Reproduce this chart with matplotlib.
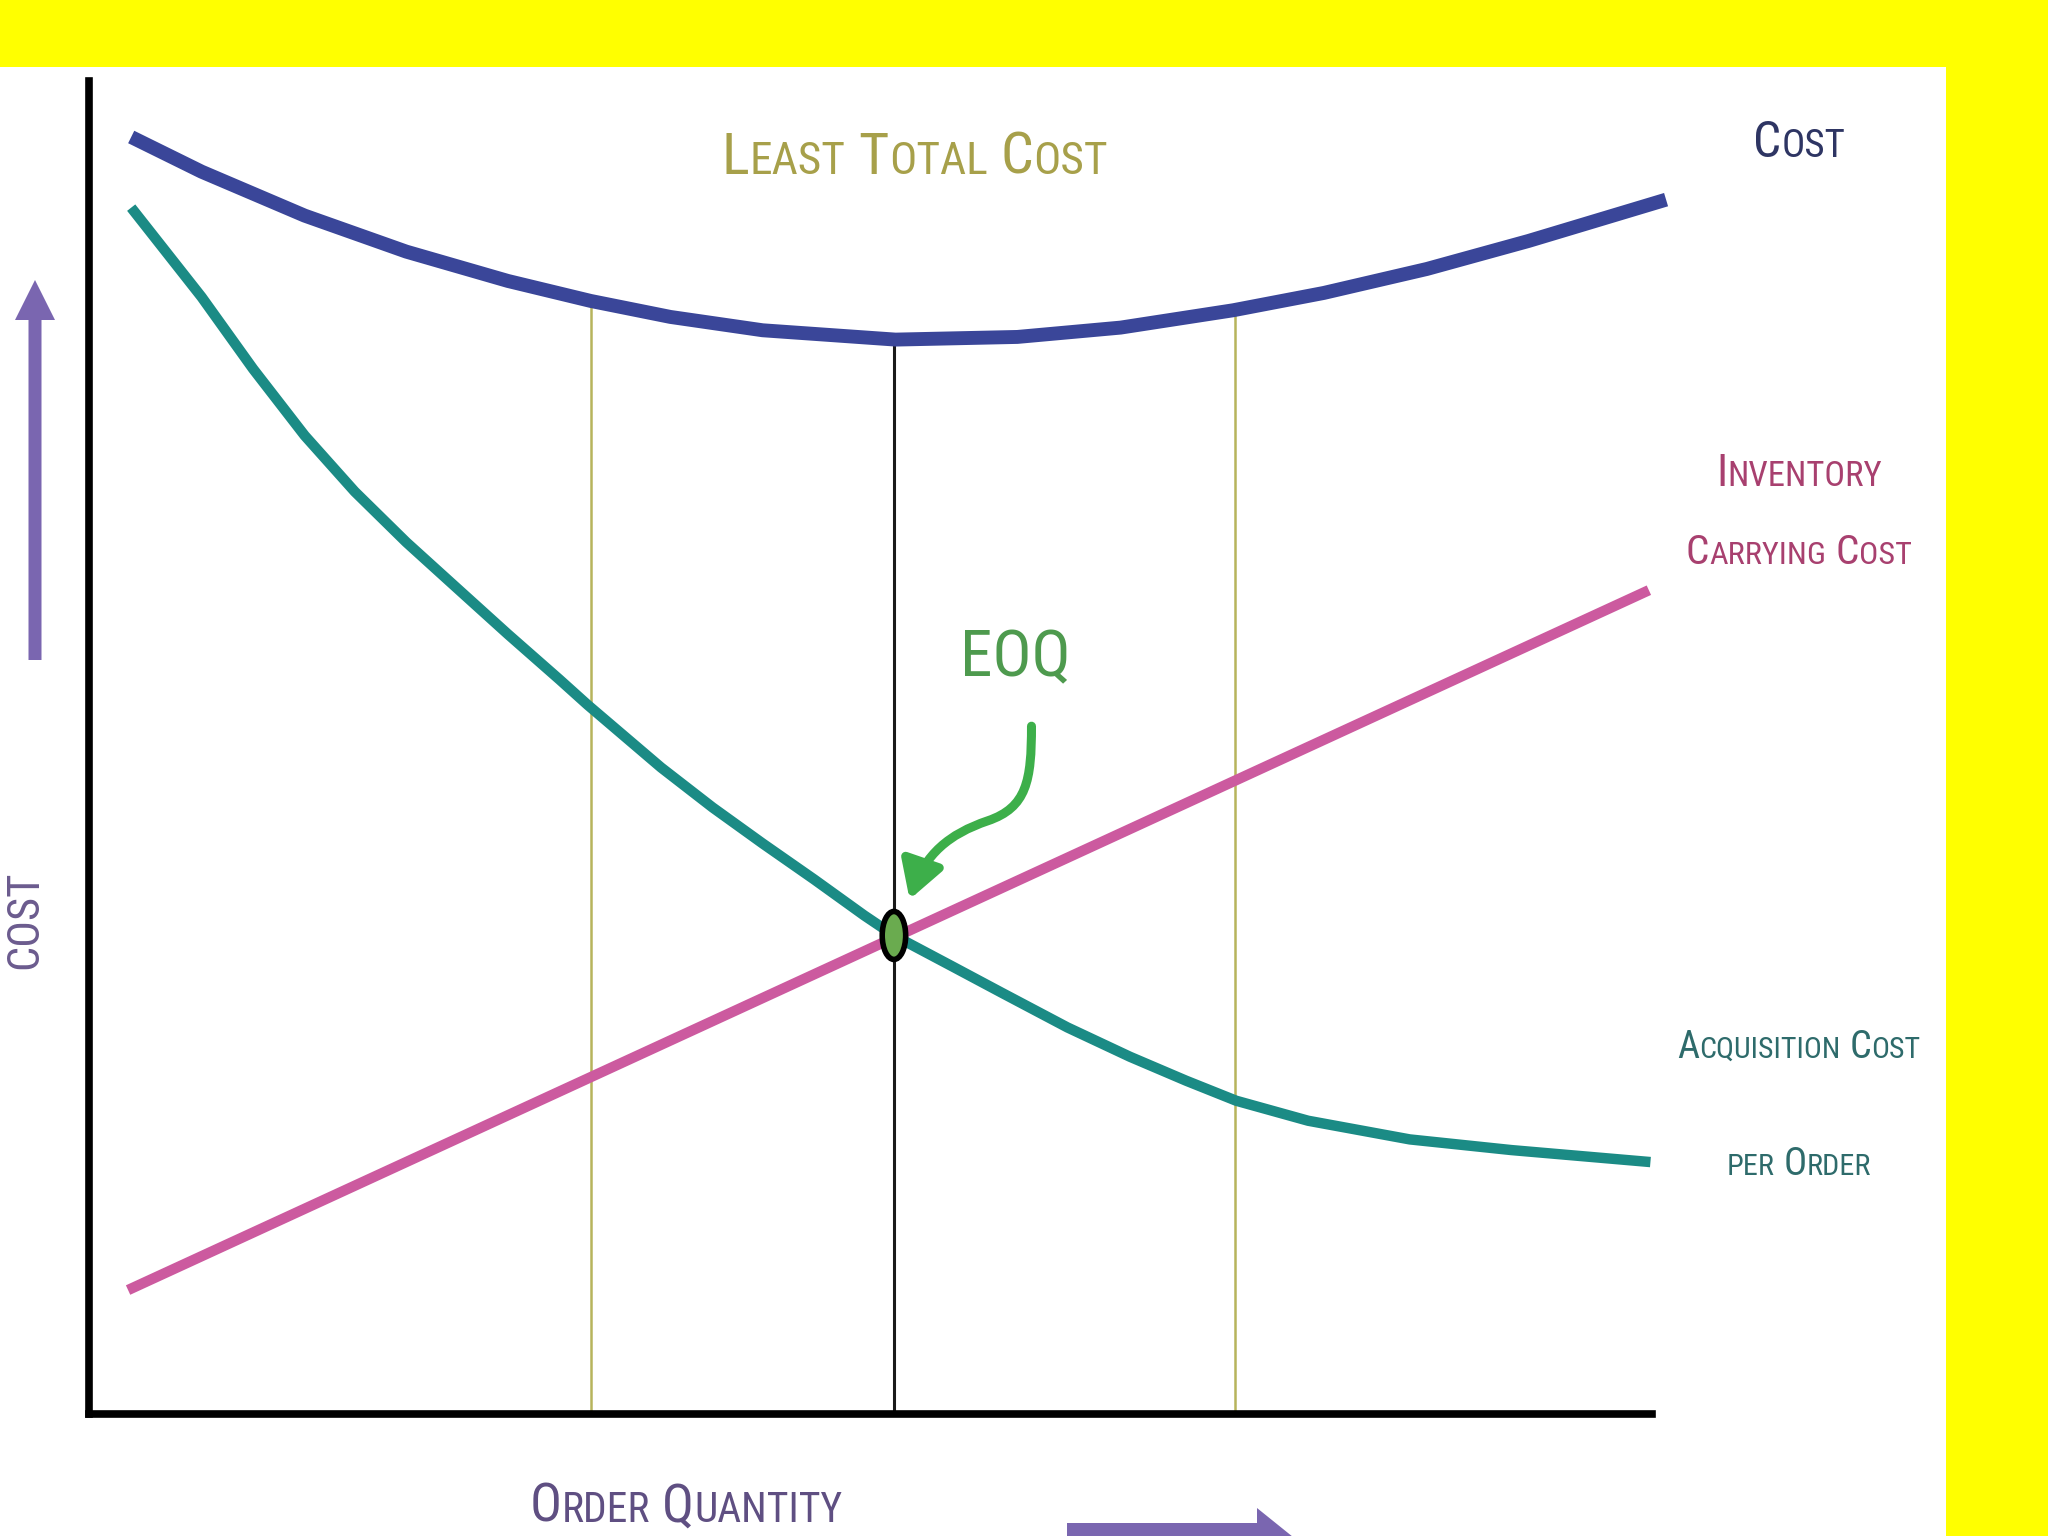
import os
import numpy as np
import matplotlib
matplotlib.use('Agg')
import matplotlib.pyplot as plt
from matplotlib import font_manager
from matplotlib.font_manager import FontProperties
from matplotlib.patches import Rectangle, Ellipse, FancyArrow, FancyArrowPatch
from matplotlib.path import Path

# values (order quantity 0..10 on x, cost 0..10 on y)
total_q = [0.27, 0.72, 1.38, 2.03, 2.68, 3.21, 3.72, 4.31, 5.16, 5.94, 6.60, 7.32, 7.90, 8.56, 9.21, 10.09]
total_cost = [9.58, 9.32, 8.99, 8.72, 8.50, 8.35, 8.23, 8.13, 8.06, 8.08, 8.15, 8.28, 8.41, 8.59, 8.80, 9.11]

acq_q = [0.27, 0.72, 1.05, 1.38, 1.70, 2.03, 2.35, 2.68, 3.01, 3.19, 3.66, 3.99, 4.31, 4.64, 4.96, 5.15,
         5.52, 5.84, 6.26, 6.66, 7.02, 7.34, 7.80, 8.45, 9.10, 9.99]
acq_cost = [9.05, 8.38, 7.84, 7.34, 6.92, 6.54, 6.20, 5.85, 5.51, 5.32, 4.85, 4.55, 4.28, 4.01, 3.74, 3.59,
            3.36, 3.16, 2.90, 2.68, 2.50, 2.35, 2.20, 2.06, 1.98, 1.89]

carry_q = [0.25, 9.98]
carry_cost = [0.93, 6.18]

eoq_q = 5.15
eoq_cost = 3.59
band_q = [3.21, 7.33]


def find_font():
    prefs = ['notosans-extracondensedmedium.ttf', 'notosans-extracondensed.ttf',
             'liberationsansnarrow-regular.ttf', 'robotocondensed-regular.ttf',
             'notosans-condensedmedium.ttf', 'notosans-condensed.ttf', 'dejavusanscondensed.ttf']
    files = [f.fname for f in font_manager.fontManager.ttflist] + font_manager.findSystemFonts()
    for p in prefs:
        for fn in files:
            if os.path.basename(fn).lower() == p:
                return FontProperties(fname=fn)
    return FontProperties(family='Roboto')


fp = find_font()

fig = plt.figure(figsize=(20.48, 15.36), dpi=100)
fig.patch.set_facecolor('white')

# pixel-space layer for frame, arrows and labels
deco = fig.add_axes([0, 0, 1, 1])
deco.set_xlim(0, 2048)
deco.set_ylim(1536, 0)
deco.axis('off')
deco.add_patch(Rectangle((0, 0), 2048, 67, color='#ffff00', lw=0))
deco.add_patch(Rectangle((1946, 0), 102, 1536, color='#ffff00', lw=0))

ax = fig.add_axes([89 / 2048, 1 - 1414 / 1536, (1652 - 89) / 2048, (1414 - 81) / 1536])
ax.patch.set_alpha(0)
ax.set_xlim(0, 10)
ax.set_ylim(0, 10)
for s in ['top', 'right']:
    ax.spines[s].set_visible(False)
for s in ['left', 'bottom']:
    ax.spines[s].set_linewidth(5.5)
    ax.spines[s].set_color('black')
ax.set_xticks([])
ax.set_yticks([])

# guide lines up to the total cost curve
ax.vlines(band_q, 0, np.interp(band_q, total_q, total_cost), colors='#b7b45c', lw=1.8, zorder=1)
ax.vlines(eoq_q, 0, np.interp(eoq_q, total_q, total_cost), colors='#1a1a1a', lw=2.2, zorder=1)

ax.plot(carry_q, carry_cost, color='#cc5a9f', lw=7.5, solid_capstyle='butt', zorder=3)
ax.plot(acq_q, acq_cost, color='#1b8b85', lw=7.5, solid_capstyle='butt', solid_joinstyle='round', zorder=2)
ax.plot(total_q, total_cost, color='#3a4699', lw=10, solid_capstyle='butt', solid_joinstyle='round',
        clip_on=False, zorder=3)

ax.add_patch(Ellipse((eoq_q, eoq_cost), 0.15, 0.36, fc='#6aab4f', ec='black', lw=4, zorder=5))

verts = [(6.03, 5.16), (6.03, 4.75), (6.0, 4.55), (5.75, 4.45),
         (5.5, 4.35), (5.35, 4.2), (5.25, 3.86)]
codes = [Path.MOVETO] + [Path.CURVE4] * 6
ax.add_patch(FancyArrowPatch(path=Path(verts, codes), arrowstyle='-|>,head_length=0.55,head_width=0.32',
                             mutation_scale=40, color='#3daf4a', lw=6.5, zorder=6))

# axis arrows
deco.add_patch(FancyArrow(35, 660, 0, -380, width=13, head_width=40, head_length=40,
                          length_includes_head=True, color='#7a66b0', lw=0))
deco.add_patch(FancyArrow(1067, 1537, 226, 0, width=28, head_width=58, head_length=36,
                          length_includes_head=True, color='#7a66b0', lw=0))

renderer = fig.canvas.get_renderer()


def small_caps(cx, y, words, big, width, color, ratio=0.78):
    # first letter of each word large, rest small, centred on cx, fitted to width
    pieces = []
    for i, w in enumerate(words):
        first, rest = w[0], w[1:]
        if first.islower():
            first, rest = '', w.upper()
        if first:
            pieces.append([deco.text(0, y, first, fontproperties=fp, color=color,
                                     va='baseline', ha='left'), 1.0, i > 0])
        if rest:
            pieces.append([deco.text(0, y, rest, fontproperties=fp, color=color,
                                     va='baseline', ha='left'), ratio, i > 0 and not first])

    def layout(size):
        x = 0
        for t, r, gap in pieces:
            t.set_fontsize(size * r)
            if gap:
                x += size * ratio * 0.4
            t.set_x(x)
            x += t.get_window_extent(renderer).width
        return x

    total = layout(big)
    size = big * min(1.0, width / total)
    total = layout(size)
    for t, r, gap in pieces:
        t.set_x(cx - total / 2 + t.get_position()[0])


small_caps(915, 174, ['LEAST', 'TOTAL', 'COST'], 52, 386, '#a7a04a')
small_caps(1799, 157, ['COST'], 48, 92, '#2e3563')
small_caps(1799, 486, ['INVENTORY'], 40, 166, '#a8406f')
small_caps(1799, 564, ['CARRYING', 'COST'], 40, 226, '#a8406f')
small_caps(1799, 1058, ['ACQUISITION', 'COST'], 38, 243, '#2e6b6b')
small_caps(1799, 1175, ['per', 'ORDER'], 38, 144, '#2e6b6b')
small_caps(686, 1522, ['ORDER', 'QUANTITY'], 48, 313, '#5f4f82')

eoq = deco.text(1015, 676, 'EOQ', fontproperties=fp, fontsize=60, color='#4e9a4e', ha='center', va='baseline')
w = eoq.get_window_extent(renderer).width
eoq.set_fontsize(60 * min(1.0, 111 / w))

deco.text(25, 920, 'COST', fontproperties=fp, fontsize=32, color='#6b5b8e', rotation=90,
          ha='center', va='center')

fig.savefig('out.png', dpi=100, facecolor='white')
